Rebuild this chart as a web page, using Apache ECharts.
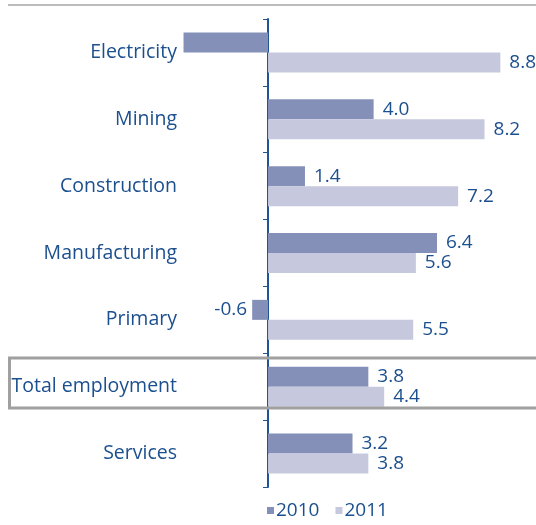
<!DOCTYPE html>
<html>
<head>
<meta charset="utf-8">
<script src="https://cdn.jsdelivr.net/npm/echarts@6/dist/echarts.min.js"></script>
<style>
  html, body { margin: 0; padding: 0; background: #fff; }
  #chart { width: 536px; height: 525px; }
</style>
</head>
<body>
<div id="chart"></div>
<script>
// Employment growth by sector, % change
const categories = ['Electricity', 'Mining', 'Construction', 'Manufacturing', 'Primary', 'Total employment', 'Services'];
const values2010 = [-3.2, 4.0, 1.4, 6.4, -0.6, 3.8, 3.2];
const values2011 = [8.8, 8.2, 7.2, 5.6, 5.5, 4.4, 3.8];
const seriesNames = ['2010', '2011'];

const textBlue = '#1b4f8e';
const axisBlue = '#1f5596';
const fontFamily = 'Open Sans';

// ECharts lays categories out bottom-up; reverse so the list reads top to bottom
const cats = categories.slice().reverse();
const d2010 = values2010.slice().reverse();
const d2011 = values2011.slice().reverse();

function valueLabel() {
  return {
    show: true,
    position: 'right',
    distance: 9,
    color: textBlue,
    fontSize: 19,
    fontFamily: fontFamily,
    formatter: p => p.value.toFixed(1)
  };
}

// Negative bars carry their label on the left; the clipped Electricity bar has none
function mapData(arr, hideClipped) {
  return arr.map((v, i) => {
    const item = { value: v };
    if (v < 0) {
      item.label = { position: 'left', distance: 5, show: !(hideClipped && cats[i] === 'Electricity') };
    }
    return item;
  });
}

const chart = echarts.init(document.getElementById('chart'));

chart.setOption({
  animation: false,
  grid: { left: 183, right: 0, top: 19, bottom: 38, containLabel: false, outerBoundsMode: 'none' },
  xAxis: {
    type: 'value',
    min: -3.22,
    max: 10.15,
    show: false
  },
  yAxis: {
    type: 'category',
    data: cats,
    axisLine: { show: true, onZero: true, lineStyle: { color: axisBlue, width: 2 } },
    axisTick: { show: true, inside: false, length: 5, lineStyle: { color: axisBlue, width: 1 } },
    axisLabel: {
      margin: 6,
      color: textBlue,
      fontSize: 19.5,
      fontFamily: fontFamily
    },
    splitLine: { show: false }
  },
  legend: {
    bottom: 0,
    left: 262,
    itemWidth: 7,
    itemHeight: 7,
    itemGap: 16,
    icon: 'rect',
    textStyle: { color: textBlue, fontSize: 19, fontFamily: fontFamily, padding: [0, 0, 0, -3] },
    data: seriesNames
  },
  series: [
    {
      name: seriesNames[0],
      type: 'bar',
      data: mapData(d2010, true),
      barWidth: 20,
      barGap: '0%',
      itemStyle: { color: '#8490b8' },
      label: valueLabel()
    },
    {
      name: seriesNames[1],
      type: 'bar',
      data: mapData(d2011, false),
      barWidth: 20,
      barGap: '0%',
      itemStyle: { color: '#c6c9de' },
      label: valueLabel()
    }
  ],
  graphic: [
    {
      type: 'line',
      shape: { x1: 8, y1: 5, x2: 536, y2: 5 },
      style: { stroke: '#a6a6a6', lineWidth: 1.5 }
    },
    {
      type: 'rect',
      shape: { x: 9.5, y: 358, width: 540, height: 50 },
      style: { fill: 'none', stroke: '#a0a0a0', lineWidth: 3 },
      z: 10
    }
  ]
});
</script>
</body>
</html>
